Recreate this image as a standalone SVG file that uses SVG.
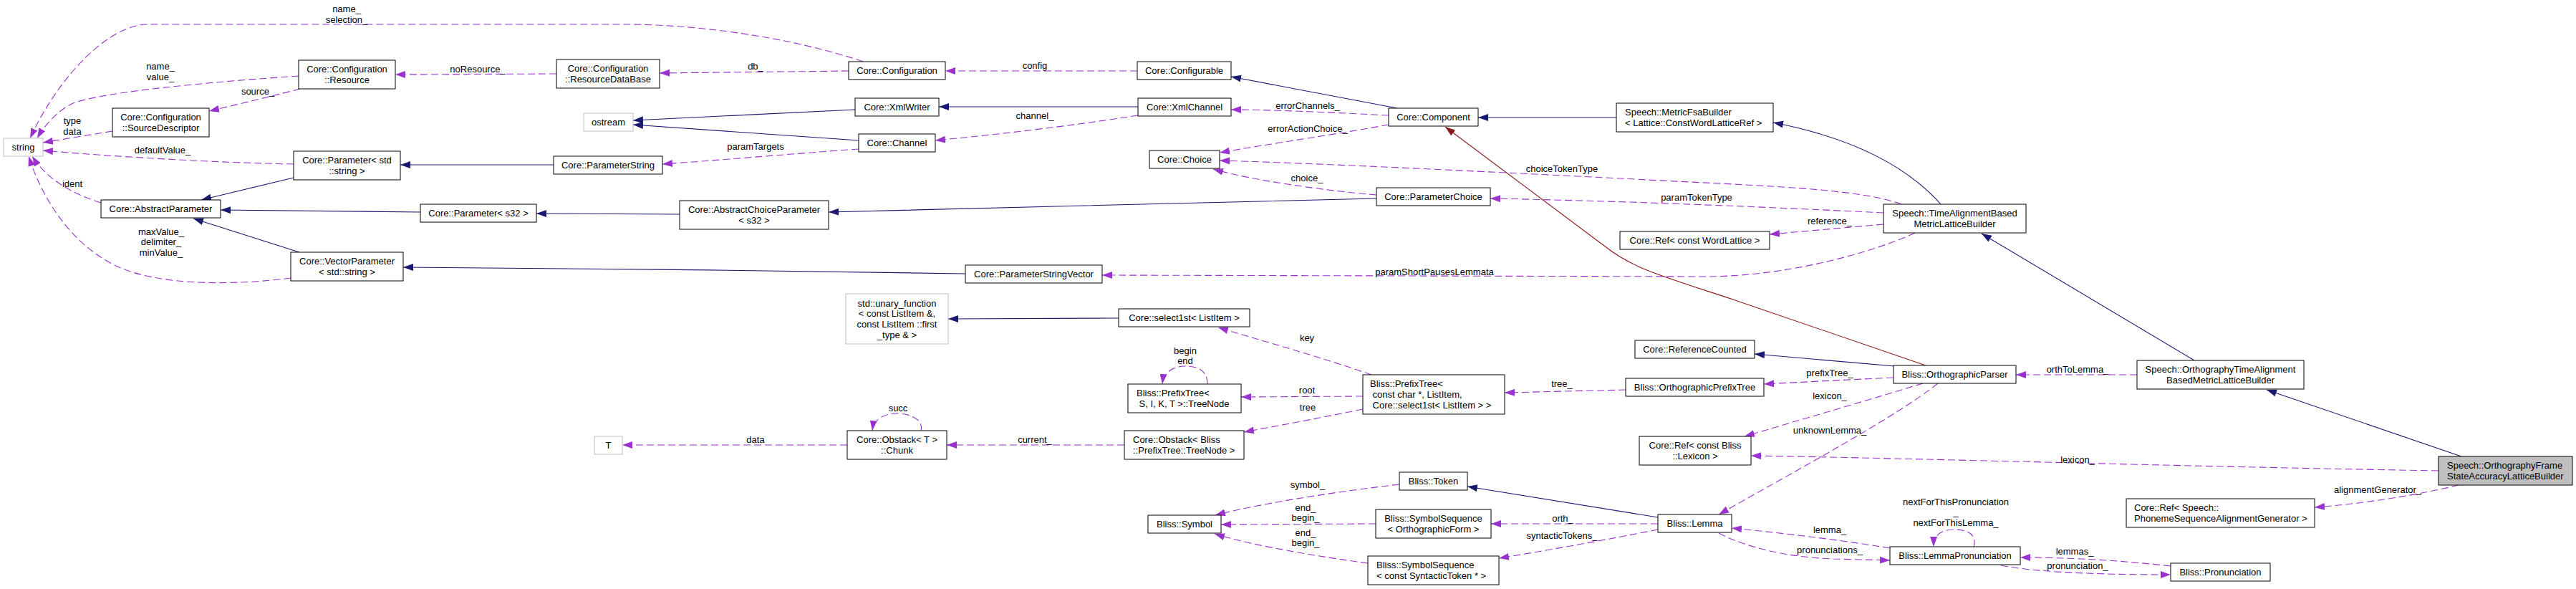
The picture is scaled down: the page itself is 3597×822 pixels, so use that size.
<svg xmlns="http://www.w3.org/2000/svg" width="3597" height="822" viewBox="0 0 3597 822">
<style>
text{font-family:"Liberation Sans",Arial,Helvetica,sans-serif;font-size:13px;fill:#000}
.n rect{fill:#fff;stroke:#000;stroke-width:1}
.g rect{fill:#fff;stroke:#bfbfbf;stroke-width:1}
.h rect{fill:#bfbfbf;stroke:#000;stroke-width:1}
.n text,.g text,.h text,.el text{text-anchor:middle}
text.lf{text-anchor:start}
.u{fill:none;stroke:#9a32cd;stroke-width:1.1;stroke-dasharray:10,5;marker-end:url(#au)}
.i{fill:none;stroke:#191970;stroke-width:1.1;marker-end:url(#ai)}
.p{fill:none;stroke:#8b1a1a;stroke-width:1.1;marker-end:url(#ap)}
</style>
<defs>
<marker id="au" markerUnits="userSpaceOnUse" markerWidth="15" markerHeight="11" refX="14" refY="5" orient="auto"><path d="M0,0 L14,5 L0,10 Z" fill="#9a32cd"/></marker>
<marker id="ai" markerUnits="userSpaceOnUse" markerWidth="15" markerHeight="11" refX="14" refY="5" orient="auto"><path d="M0,0 L14,5 L0,10 Z" fill="#191970"/></marker>
<marker id="ap" markerUnits="userSpaceOnUse" markerWidth="15" markerHeight="11" refX="14" refY="5" orient="auto"><path d="M0,0 L14,5 L0,10 Z" fill="#8b1a1a"/></marker>
</defs>
<rect width="3597" height="822" fill="#fff"/>
<g id="connectors">
<path class="u" d="M1205,86 C1130,60 1000,34 870,34 L207,34 C150,34 80,110 42,193"/>
<path class="u" d="M417,106 C300,114 140,128 100,145 C80,155 62,175 52,193"/>
<path class="u" d="M419,124 C380,134 335,145 292,155"/>
<path class="u" d="M777,103 L552,104"/>
<path class="u" d="M1185,99 L921,102"/>
<path class="u" d="M1588,99 L1320,99"/>
<path class="u" d="M157,183 L60,199"/>
<path class="u" d="M410,229 C300,227 150,218 60,210"/>
<path class="u" d="M141,283 C100,270 65,250 45,218"/>
<path class="u" d="M406,388 C330,398 220,400 160,370 C100,340 60,280 40,218"/>
<path class="u" d="M1589,161 C1500,175 1400,187 1306,196"/>
<path class="u" d="M1199,208 C1100,215 1000,224 925,229"/>
<path class="u" d="M1939,161 C1880,158 1780,153 1719,153"/>
<path class="u" d="M1939,174 C1880,185 1760,203 1703,213"/>
<path class="u" d="M1922,272 C1850,266 1750,252 1694,236"/>
<path class="u" d="M2655,285 C2610,268 2520,262 2400,256 C2200,246 1900,230 1703,224"/>
<path class="u" d="M2630,297 C2450,288 2250,280 2081,277"/>
<path class="u" d="M2630,313 L2471,327"/>
<path class="u" d="M2674,325 C2620,350 2500,386 2380,386 L1539,384"/>
<path class="u" d="M1915,523 C1850,500 1760,475 1701,457"/>
<path class="u" d="M1903,553 L1733,554"/>
<path class="u" d="M1903,571 C1850,582 1780,595 1737,603"/>
<path class="u" d="M1686,536 C1686,515 1670,511 1655,511 C1640,511 1625,518 1623,536"/>
<path class="u" d="M1570,621 L1322,621"/>
<path class="u" d="M1286,601 C1290,585 1270,577 1252,577 C1235,577 1220,585 1218,601"/>
<path class="u" d="M1183,621 L869,621"/>
<path class="u" d="M2270,544 L2101,548"/>
<path class="u" d="M2644,527 C2580,530 2520,533 2463,536"/>
<path class="u" d="M2685,535 C2620,555 2500,590 2436,609"/>
<path class="u" d="M2706,535 C2650,580 2520,650 2400,718"/>
<path class="u" d="M3405,657 C3000,650 2700,640 2445,636"/>
<path class="u" d="M3433,677 C3380,690 3300,703 3232,708"/>
<path class="u" d="M2984,523 L2815,523"/>
<path class="u" d="M1954,676 C1850,688 1750,705 1697,719"/>
<path class="u" d="M1921,731 L1705,732"/>
<path class="u" d="M1910,786 C1850,778 1750,762 1696,745"/>
<path class="u" d="M2315,731 L2082,731"/>
<path class="u" d="M2315,739 C2250,752 2150,770 2093,779"/>
<path class="u" d="M2639,765 C2560,752 2480,743 2418,737"/>
<path class="u" d="M2400,744 C2440,765 2500,778 2560,780 L2639,782"/>
<path class="u" d="M2756,763 C2762,745 2745,739 2729,739 C2712,739 2700,746 2700,763"/>
<path class="u" d="M3031,790 C2960,782 2890,778 2821,778"/>
<path class="u" d="M2794,789 C2850,800 2950,802 3031,802"/>
<path class="i" d="M410,248 L281,279"/>
<path class="i" d="M587,296 L308,293"/>
<path class="i" d="M418,352 L270,305"/>
<path class="i" d="M773,230 L559,230"/>
<path class="i" d="M949,299 L749,298"/>
<path class="i" d="M1348,382 C1100,378 800,374 563,373"/>
<path class="i" d="M1194,153 L884,168"/>
<path class="i" d="M1199,196 L884,174"/>
<path class="i" d="M1589,149 L1311,149"/>
<path class="i" d="M1951,151 L1719,107"/>
<path class="i" d="M1922,277 C1700,282 1400,290 1157,296"/>
<path class="i" d="M2257,164 L2064,164"/>
<path class="i" d="M2710,285 C2670,240 2600,195 2476,171"/>
<path class="i" d="M3064,503 L2767,326"/>
<path class="i" d="M3437,637 L3165,544"/>
<path class="i" d="M1562,444 L1324,445"/>
<path class="i" d="M2645,511 L2450,494"/>
<path class="i" d="M2315,722 L2049,679"/>
<path class="p" d="M2689,510 L2420,418 C2320,385 2280,375 2240,343 L2018,177"/>
<g class="el">
<text x="484" y="16.5">name_</text><text x="484" y="31.5">selection_</text>
<text x="224" y="96.5">name_</text><text x="224" y="111.5">value_</text>
<text x="360" y="131.5">source_</text>
<text x="667" y="100.5">noResource_</text>
<text x="1055" y="96.5">db_</text>
<text x="1445" y="95.5">config</text>
<text x="101" y="172.5">type</text><text x="101" y="187.5">data</text>
<text x="227" y="213.5">defaultValue_</text>
<text x="101" y="260.5">ident</text>
<text x="225" y="327.5">maxValue_</text><text x="225" y="342.2">delimiter_</text><text x="225" y="356.9">minValue_</text>
<text x="1445" y="165.5">channel_</text>
<text x="1055" y="208.5">paramTargets</text>
<text x="1826" y="151.5">errorChannels_</text>
<text x="1826" y="183.5">errorActionChoice_</text>
<text x="1825" y="252.5">choice_</text>
<text x="2181" y="239.5">choiceTokenType</text>
<text x="2369" y="279.5">paramTokenType</text>
<text x="2555" y="312.5">reference_</text>
<text x="2003" y="383.5">paramShortPausesLemmata</text>
<text x="1825" y="475.5">key</text>
<text x="1825" y="548.5">root</text>
<text x="1826" y="572.5">tree</text>
<text x="1655" y="493.5">begin</text><text x="1655" y="508">end</text>
<text x="1445" y="617.5">current_</text>
<text x="1254" y="573.5">succ</text>
<text x="1055" y="617.5">data</text>
<text x="2181" y="539.5">tree_</text>
<text x="2555" y="524.5">prefixTree_</text>
<text x="2555" y="556.5">lexicon_</text>
<text x="2555" y="604.5">unknownLemma_</text>
<text x="2901" y="645.5">lexicon_</text>
<text x="3320" y="687.5">alignmentGenerator_</text>
<text x="2901" y="519.5">orthToLemma_</text>
<text x="1826" y="680.5">symbol_</text>
<text x="1823" y="712.5">end_</text><text x="1823" y="727">begin_</text>
<text x="1823" y="747.5">end_</text><text x="1823" y="761.5">begin_</text>
<text x="2182" y="727.5">orth_</text>
<text x="2181" y="751.5">syntacticTokens_</text>
<text x="2555" y="743.5">lemma_</text>
<text x="2555" y="771.5">pronunciations_</text>
<text x="2731" y="704.5">nextForThisPronunciation</text><text x="2731" y="719">_</text><text x="2731" y="734">nextForThisLemma_</text>
<text x="2897" y="773.5">lemmas_</text>
<text x="2901" y="793.5">pronunciation_</text>
</g>
</g>
<g id="n_string" class="g"><rect x="5" y="193" width="55" height="25"/><text x="32.5" y="210">string</text></g>
<g id="n_resource" class="n"><rect x="417" y="84" width="135" height="40"/><text x="484.5" y="101.2">Core::Configuration</text><text x="484.5" y="115.9">::Resource</text></g>
<g id="n_sourcedesc" class="n"><rect x="157" y="151" width="135" height="40"/><text x="224.5" y="168.2">Core::Configuration</text><text x="224.5" y="182.9">::SourceDescriptor</text></g>
<g id="n_paramstd" class="n"><rect x="410" y="211" width="149" height="40"/><text x="484.5" y="228.2">Core::Parameter&lt; std</text><text x="484.5" y="242.9">::string &gt;</text></g>
<g id="n_abstractparam" class="n"><rect x="141" y="279" width="167" height="25"/><text x="224.5" y="296">Core::AbstractParameter</text></g>
<g id="n_vectorparam" class="n"><rect x="406" y="352" width="157" height="40"/><text x="484.5" y="369.2">Core::VectorParameter</text><text x="484.5" y="383.9">&lt; std::string &gt;</text></g>
<g id="n_params32" class="n"><rect x="587" y="285" width="162" height="25"/><text x="668" y="302">Core::Parameter&lt; s32 &gt;</text></g>
<g id="n_resourcedb" class="n"><rect x="777" y="83" width="144" height="40"/><text x="849" y="100.2">Core::Configuration</text><text x="849" y="114.9">::ResourceDataBase</text></g>
<g id="n_ostream" class="g"><rect x="815" y="158" width="69" height="25"/><text x="849.5" y="175">ostream</text></g>
<g id="n_paramstring" class="n"><rect x="773" y="218" width="152" height="25"/><text x="849" y="235">Core::ParameterString</text></g>
<g id="n_abstractchoice" class="n"><rect x="949" y="280" width="208" height="40"/><text x="1053" y="297.2">Core::AbstractChoiceParameter</text><text x="1053" y="311.9">&lt; s32 &gt;</text></g>
<g id="n_configuration" class="n"><rect x="1185" y="86" width="135" height="25"/><text x="1252.5" y="103">Core::Configuration</text></g>
<g id="n_xmlwriter" class="n"><rect x="1194" y="137" width="117" height="25"/><text x="1252.5" y="154">Core::XmlWriter</text></g>
<g id="n_channel" class="n"><rect x="1199" y="187" width="107" height="25"/><text x="1252.5" y="204">Core::Channel</text></g>
<g id="n_configurable" class="n"><rect x="1588" y="86" width="131" height="25"/><text x="1653.5" y="103">Core::Configurable</text></g>
<g id="n_xmlchannel" class="n"><rect x="1589" y="137" width="130" height="25"/><text x="1654" y="154">Core::XmlChannel</text></g>
<g id="n_choice" class="n"><rect x="1605" y="210" width="98" height="25"/><text x="1654" y="227">Core::Choice</text></g>
<g id="n_paramstrvec" class="n"><rect x="1348" y="370" width="191" height="25"/><text x="1443.5" y="387">Core::ParameterStringVector</text></g>
<g id="n_component" class="n"><rect x="1939" y="151" width="125" height="25"/><text x="2001.5" y="168">Core::Component</text></g>
<g id="n_metricfsa" class="n"><rect x="2257" y="144" width="219" height="40"/><text class="lf" x="2269" y="161.2">Speech::MetricFsaBuilder</text><text class="lf" x="2269" y="175.9">&lt; Lattice::ConstWordLatticeRef &gt;</text></g>
<g id="n_paramchoice" class="n"><rect x="1922" y="262" width="159" height="25"/><text x="2001.5" y="279">Core::ParameterChoice</text></g>
<g id="n_refwl" class="n"><rect x="2262" y="323" width="209" height="25"/><text x="2366.5" y="340">Core::Ref&lt; const WordLattice &gt;</text></g>
<g id="n_tab" class="n"><rect x="2630" y="285" width="199" height="40"/><text x="2729.5" y="302.2">Speech::TimeAlignmentBased</text><text x="2729.5" y="316.9">MetricLatticeBuilder</text></g>
<g id="n_unary" class="g"><rect x="1181" y="410" width="143" height="70"/><text x="1252.5" y="427.5">std::unary_function</text><text x="1252.5" y="442.2">&lt; const ListItem &amp;,</text><text x="1252.5" y="456.9">const ListItem ::first</text><text x="1252.5" y="471.6">_type &amp; &gt;</text></g>
<g id="n_select1st" class="n"><rect x="1562" y="431" width="183" height="25"/><text x="1653.5" y="448">Core::select1st&lt; ListItem &gt;</text></g>
<g id="n_treenode" class="n"><rect x="1575" y="536" width="158" height="40"/><text class="lf" x="1587" y="553.2">Bliss::PrefixTree&lt;</text><text class="lf" x="1590.6" y="567.9">S, I, K, T &gt;::TreeNode</text></g>
<g id="n_chunk" class="n"><rect x="1183" y="601" width="139" height="40"/><text x="1252.5" y="618.2">Core::Obstack&lt; T &gt;</text><text x="1252.5" y="632.9">::Chunk</text></g>
<g id="n_obstack" class="n"><rect x="1570" y="601" width="167" height="40"/><text class="lf" x="1582" y="618.2">Core::Obstack&lt; Bliss</text><text class="lf" x="1582" y="632.9">::PrefixTree::TreeNode &gt;</text></g>
<g id="n_symbol" class="n"><rect x="1603" y="719" width="102" height="25"/><text x="1654" y="736">Bliss::Symbol</text></g>
<g id="n_T" class="g"><rect x="830" y="609" width="39" height="25"/><text x="849.5" y="626">T</text></g>
<g id="n_prefixtree" class="n"><rect x="1903" y="523" width="198" height="55"/><text class="lf" x="1913" y="540.3">Bliss::PrefixTree&lt;</text><text class="lf" x="1916.6" y="555">const char *, ListItem,</text><text class="lf" x="1916.6" y="569.7">Core::select1st&lt; ListItem &gt; &gt;</text></g>
<g id="n_refcounted" class="n"><rect x="2283" y="475" width="167" height="25"/><text x="2366.5" y="492">Core::ReferenceCounted</text></g>
<g id="n_orthprefix" class="n"><rect x="2270" y="528" width="193" height="25"/><text x="2366.5" y="545">Bliss::OrthographicPrefixTree</text></g>
<g id="n_reflex" class="n"><rect x="2289" y="609" width="156" height="40"/><text x="2367" y="626.2">Core::Ref&lt; const Bliss</text><text x="2367" y="640.9">::Lexicon &gt;</text></g>
<g id="n_token" class="n"><rect x="1954" y="659" width="95" height="25"/><text x="2001.5" y="676">Bliss::Token</text></g>
<g id="n_ssorth" class="n"><rect x="1921" y="711" width="161" height="40"/><text x="2001.5" y="728.2">Bliss::SymbolSequence</text><text x="2001.5" y="742.9">&lt; OrthographicForm &gt;</text></g>
<g id="n_sssyn" class="n"><rect x="1910" y="776" width="183" height="40"/><text class="lf" x="1922" y="793.2">Bliss::SymbolSequence</text><text class="lf" x="1922" y="807.9">&lt; const SyntacticToken * &gt;</text></g>
<g id="n_lemma" class="n"><rect x="2315" y="718" width="103" height="25"/><text x="2366.5" y="735">Bliss::Lemma</text></g>
<g id="n_orthparser" class="n"><rect x="2644" y="510" width="171" height="25"/><text x="2729.5" y="527">Bliss::OrthographicParser</text></g>
<g id="n_lemmapron" class="n"><rect x="2639" y="763" width="182" height="25"/><text x="2730" y="780">Bliss::LemmaPronunciation</text></g>
<g id="n_otab" class="n"><rect x="2984" y="503" width="233" height="40"/><text x="3100.5" y="520.2">Speech::OrthographyTimeAlignment</text><text x="3100.5" y="534.9">BasedMetricLatticeBuilder</text></g>
<g id="n_refpsag" class="n"><rect x="2969" y="696" width="263" height="40"/><text class="lf" x="2980" y="713.2">Core::Ref&lt; Speech::</text><text class="lf" x="2980" y="727.9">PhonemeSequenceAlignmentGenerator &gt;</text></g>
<g id="n_pron" class="n"><rect x="3031" y="786" width="139" height="25"/><text x="3100.5" y="803">Bliss::Pronunciation</text></g>
<g id="n_ofs" class="h"><rect x="3405" y="637" width="187" height="40"/><text class="lf" x="3417" y="654.2">Speech::OrthographyFrame</text><text class="lf" x="3417" y="668.9">StateAccuracyLatticeBuilder</text></g>
</svg>
